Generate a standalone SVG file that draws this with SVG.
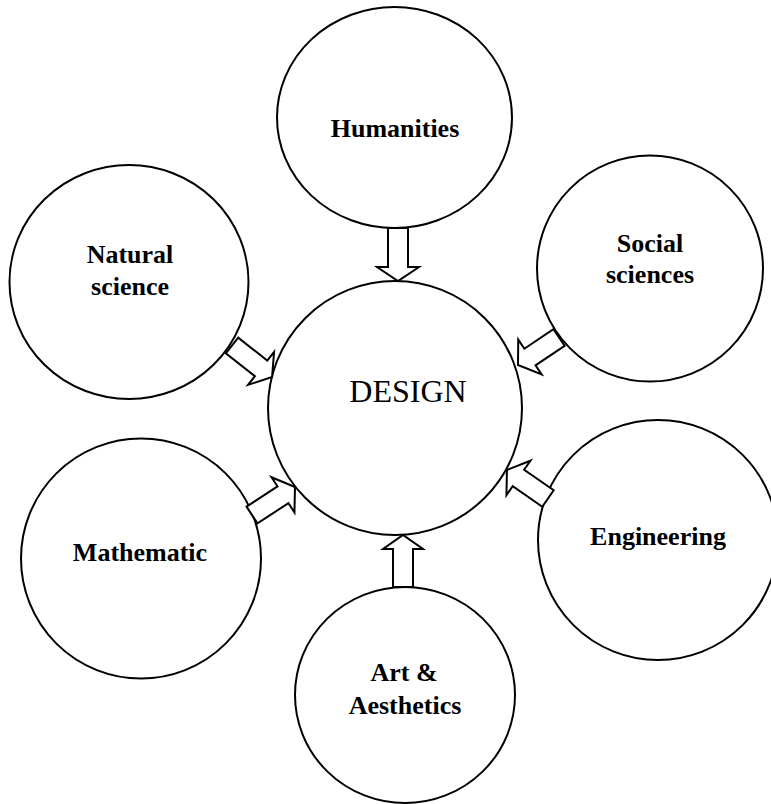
<svg xmlns="http://www.w3.org/2000/svg" width="771" height="804" viewBox="0 0 771 804">
<style>
.c{fill:#fff;stroke:#000;stroke-width:2}
.a{fill:#fff;stroke:#000;stroke-width:2;stroke-linejoin:miter}
.t{font-family:"Liberation Serif","Times New Roman",serif;font-weight:bold;font-size:26px;text-anchor:middle;fill:#000}
.d{font-family:"Liberation Serif","Times New Roman",serif;font-size:32px;text-anchor:middle;fill:#000}
</style>
<rect width="771" height="804" fill="#fff"/>
<g id="design"><circle class="c" cx="395" cy="408" r="127"/><text class="d" x="408" y="402">DESIGN</text></g>
<g id="humanities"><ellipse class="c" cx="394.5" cy="117.5" rx="117.5" ry="110.5"/><text class="t" x="395" y="137">Humanities</text></g>
<g id="natural"><ellipse class="c" cx="129" cy="282" rx="119.5" ry="117"/><text class="t" x="130" y="263">Natural</text><text class="t" x="130" y="295">science</text></g>
<g id="social"><circle class="c" cx="650" cy="268.5" r="113"/><text class="t" x="650" y="252">Social</text><text class="t" x="650" y="283">sciences</text></g>
<g id="mathematic"><circle class="c" cx="141" cy="558.5" r="120"/><text class="t" x="140" y="561">Mathematic</text></g>
<g id="engineering"><circle class="c" cx="658" cy="540" r="120"/><text class="t" x="658" y="545">Engineering</text></g>
<g id="art"><ellipse class="c" cx="405" cy="695" rx="110" ry="108"/><text class="t" x="404" y="681">Art &amp;</text><text class="t" x="405" y="714">Aesthetics</text></g>
<g id="connectors">
<polygon class="a" transform="translate(398,228) rotate(90)" points="0,-10 39,-10 39,-21 53,0 39,21 39,10 0,10"/>
<polygon class="a" transform="translate(403,587) rotate(-90)" points="0,-10 38,-10 38,-20 52,0 38,20 38,10 0,10"/>
<polygon class="a" transform="translate(232,345.5) rotate(38.2)" points="0,-10 37,-10 37,-21 51,0 37,21 37,10 0,10"/>
<polygon class="a" transform="translate(559,337.5) rotate(146.1)" points="0,-10 35,-10 35,-21 49.4,0 35,21 35,10 0,10"/>
<polygon class="a" transform="translate(252,515) rotate(-33.1)" points="0,-10 37,-10 37,-21 51.3,0 37,21 37,10 0,10"/>
<polygon class="a" transform="translate(548,498.5) rotate(-145.2)" points="0,-10 36,-10 36,-21 50,0 36,21 36,10 0,10"/>
</g>
</svg>
